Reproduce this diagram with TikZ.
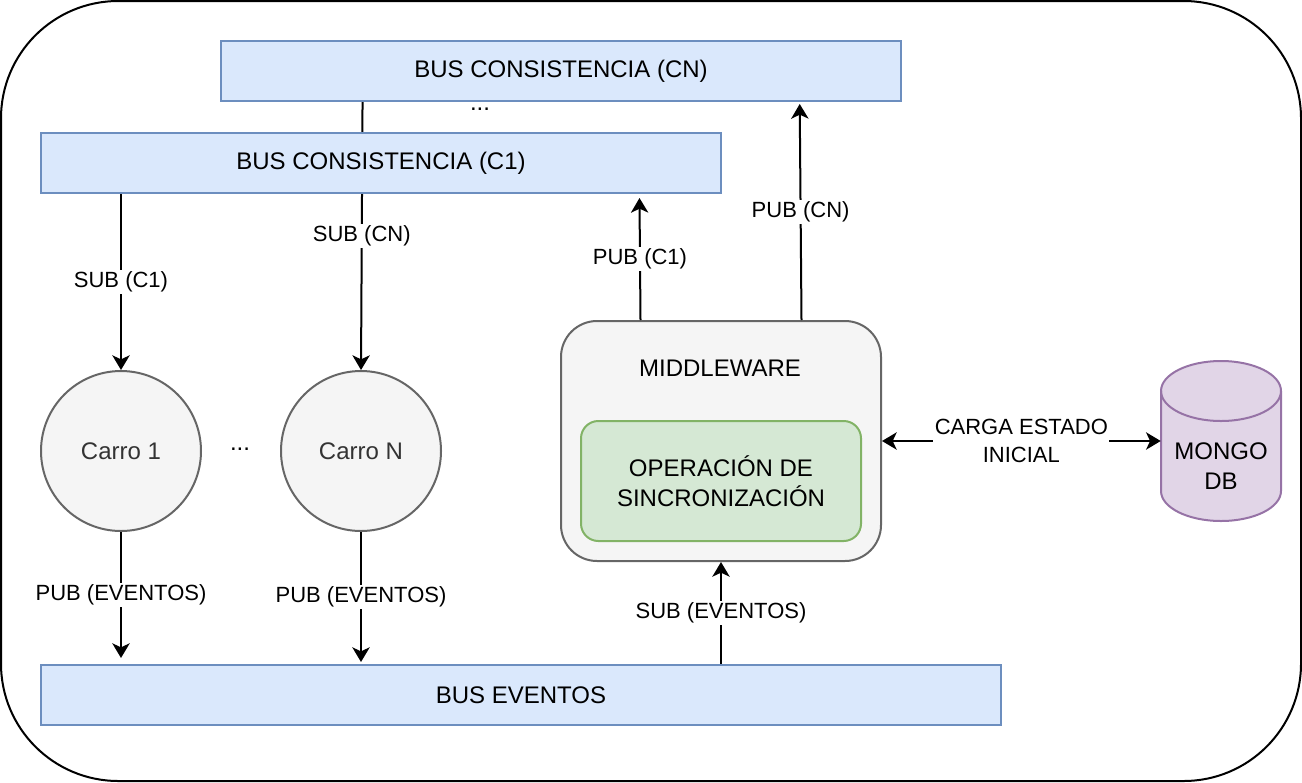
\documentclass[tikz,border=0pt]{standalone}
\usepackage{fontspec}
\setmainfont{Liberation Sans}
\usetikzlibrary{positioning,calc,arrows.meta,backgrounds}
\definecolor{busfill}{HTML}{DAE8FC}
\definecolor{busline}{HTML}{6C8EBF}
\definecolor{greyfill}{HTML}{F5F5F5}
\definecolor{greyline}{HTML}{666666}
\definecolor{greytext}{HTML}{333333}
\definecolor{syncfill}{HTML}{D5E8D4}
\definecolor{syncline}{HTML}{82B366}
\definecolor{dbfill}{HTML}{E1D5E7}
\definecolor{dbline}{HTML}{9673A6}
\begin{document}
\begin{tikzpicture}[x=0.75pt,y=-0.75pt,font=\fontsize{18pt}{22.5pt}\selectfont,
  bus/.style={draw=busline,fill=busfill,line width=1.5pt,minimum height=45pt,inner sep=0pt},
  carro/.style={circle,draw=greyline,fill=greyfill,text=greytext,line width=1.5pt,minimum size=120pt,inner sep=0pt},
  arr/.style={line width=1.5pt,-{Stealth[length=11pt,width=13pt,inset=3pt]}},
  lbl/.style={fill=white,font=\fontsize{16.5pt}{21pt}\selectfont,inner sep=1pt,align=center}]
\useasboundingbox (0,0) rectangle (1302,782);
\draw[line width=1.5pt,rounded corners=88pt] (1,1) rectangle (1301,781);
% buses
\node[bus,minimum width=510pt] (bcn) at (561,71) {BUS CONSISTENCIA (CN)};
\node[bus,minimum width=510pt] (bc1) at (381,163) {BUS CONSISTENCIA (C1)};
\node[bus,minimum width=720pt] (bev) at (521,695) {BUS EVENTOS};
\node at (480,109) {...};
% carros
\node[carro] (c1) at (121,451) {Carro 1};
\node[carro] (cn) at (361,451) {Carro N};
\node at (240,449) {...};
% middleware
\node[draw=greyline,fill=greyfill,line width=1.5pt,rounded corners=27pt,minimum width=240pt,minimum height=180pt] (mw) at (721,441) {};
\node[text=black] (mwlbl) at ($(mw.north)+(-1,48)$) {MIDDLEWARE};
\node[draw=syncline,fill=syncfill,line width=1.5pt,rounded corners=13pt,minimum width=210pt,minimum height=90pt,align=center] (sync) at (721,481) {OPERACIÓN DE\\SINCRONIZACIÓN};
% mongo db
\node[minimum width=90pt,minimum height=120pt] (mongo) at (1221,441) {};
\draw[dbline,fill=dbfill,line width=1.5pt] (1161,391) -- (1161,491) arc[start angle=180,end angle=0,x radius=60,y radius=30] -- (1281,391) arc[start angle=360,end angle=180,x radius=60,y radius=30] -- cycle;
\draw[dbline,line width=1.5pt] (1161,391) arc[start angle=180,end angle=0,x radius=60,y radius=30];
\node[align=center] at (1221,466) {MONGO\\DB};
% connectors
\begin{scope}[on background layer]
\draw[arr] ($(bcn.south west)!.209!(bcn.south east)$) -- (cn.north) node[lbl,pos=0.5] {SUB (CN)};
\end{scope}
\draw[arr] (c1.north |- bc1.south) -- (c1.north) node[lbl,midway] {SUB (C1)};
\draw[arr] ($(mw.north west)!.25!(mw.north east)$) -- ($(bc1.south west)!.879!(bc1.south east)+(0,-3pt)$) node[lbl,midway] {PUB (C1)};
\draw[arr] ($(mw.north west)!.75!(mw.north east)$) -- ($(bcn.south west)!.85!(bcn.south east)+(0,-1.5pt)$) node[lbl,midway] {PUB (CN)};
\draw[arr] (c1.south) -- ($(c1.south |- bev.north)+(0,4.5pt)$) node[lbl,midway] {PUB (EVENTOS)};
\draw[arr] (cn.south) -- ($(cn.south |- bev.north)+(0,1.5pt)$) node[lbl,midway] {PUB (EVENTOS)};
\draw[arr] (mw.south |- bev.north) -- (mw.south) node[lbl,midway] {SUB (EVENTOS)};
\draw[arr,{Stealth[length=11pt,width=13pt,inset=3pt]}-{Stealth[length=11pt,width=13pt,inset=3pt]}] (mw.east) -- (mongo.west) node[lbl,midway] {CARGA ESTADO\\INICIAL};
\end{tikzpicture}
\end{document}
